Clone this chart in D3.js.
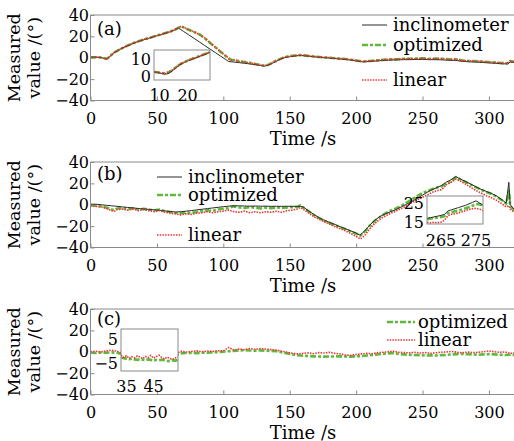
<!DOCTYPE html>
<html><head><meta charset="utf-8">
<script src="https://cdn.jsdelivr.net/npm/d3@7"></script>
<style>
body{margin:0;background:#fff}
svg{display:block}
text{font-family:'DejaVu Serif',serif;fill:#000}
</style>
</head><body>
<svg id="chart" width="514" height="441"></svg>
<script>
// ---------------- DATA ----------------
const xTicks = [0,50,100,150,200,250,300];
const yTicks = [-40,-20,0,20,40];
const panelLabels = ["(a)","(b)","(c)"];
const yLabelLines = ["Measured","value /(°)"];
const xLabel = "Time /s";

// Panel (a)
const aTime = [0,4,8,10,12,14,16,18,20,24,28,32,36,40,44,48,52,56,60,64,66,68,70,74,78,82,86,90,94,98,102,104,106,108,112,116,120,124,128,131,134,138,142,146,150,154,158,162,166,170,175,180,185,190,195,200,205,210,215,220,225,230,235,240,245,250,255,260,265,270,275,280,285,290,295,300,305,310,314,316,318,320];
const aIncl = [0.5,0.5,0.2,-0.5,-1.3,0.3,2.8,5,6.3,9, 11.3,13.3,15.3,16.8,18.3,19.8,21.3,22.8,24.3,26.3, 27.8,26.4,24.7,21.4,18.1,14.8,11.4,8.1,4.8,1.5, -1.8,-3.5,-3.8,-4,-4.6,-5.2,-5.8,-6.5,-7.2,-7.8, -6.8,-4.5,-2,0,1,1.7,2.2,1.8,1.2,0.7, 0.2,-0.3,-0.8,-1.4,-2,-3,-3.8,-3.5,-3,-2.6, -2.2,-2,-1.8,-1.8,-1.6,-1.5,-1.8,-1.8,-2,-2.3, -2.5,-3.3,-3.8,-4,-4.4,-4.8,-5.2,-5.6,-5.8,-4, -4.2,-4.5];
const aOpt = [0.5,0.5,0.3,-0.3,-1,0.5,3,5,6.5,9, 11.5,13.5,15.5,17,18.5,20,21.5,23,24.5,26.5, 28,29.5,28.4,26.2,24,21.9,18.3,14,9.8,5.6, 1.4,-0.7,-2,-2.3,-3.2,-4,-4.8,-5.8,-6.8,-7.5, -6.5,-4,-1.5,0.5,1.5,2,2.5,2,1.5,1, 0.5,0,-0.5,-1,-1.5,-2.5,-3.5,-3,-2.5,-2, -1.5,-1.5,-1,-1,-0.8,-0.5,-1,-0.8,-1,-1.5, -1.5,-2.5,-3,-3.2,-3.6,-4,-4.5,-5,-5.2,-3, -3.5,-4];
const aLin = [0.3,0.7,0.1,-0.5,-1.2,0.8,2.8,5.3,6.2,9.3, 11.2,13.8,15.2,17.3,18.2,20.3,21.2,23.3,24.2,26.8, 27.7,29.3,28.6,26,24.3,21.6,18.6,13.7,10.1,5.3, 1.7,-0.4,-2.2,-2,-3.4,-3.8,-5,-5.6,-7,-7.3, -6.8,-3.8,-1.7,0.7,1.3,2.2,2.3,2.2,1.3,1.2, 0.3,0.2,-0.7,-0.8,-1.7,-2.3,-3.7,-2.8,-2.7,-1.8, -1.7,-1.3,-1.2,-0.8,-1,-0.3,-1.2,-0.6,-0.8,-1.7, -1.3,-2.7,-2.8,-3.4,-3.4,-4.2,-4.3,-5.2,-5,-2.8, -3.7,-3.8];
const aInsTime = [8,9,10,11,12,13,14,15,16,17,18,19,20,21,22,23,24,25,26,27,28];
const aInsIncl = [2.5,2.3,2,1.6,1.3,1.6,2.5,3.8,5,6.3,7.3,8.1,8.8,9.4,10,10.6,11.2,11.8,12.4,13,13.6];
const aInsOpt = [2.6,2.4,2.2,1.9,1.8,2.2,3,4.2,5.4,6.6,7.5,8.3,9,9.6,10.2,10.8,11.4,12,12.6,13.2,13.9];
const aInsLin = [2.4,2.6,2,2,1.6,2.4,3.2,4,5.6,6.4,7.7,8.1,9.2,9.5,10.4,10.6,11.6,11.9,12.8,13.1,14.1];
const aInsXTicks = [10,20];
const aInsYTicks = [0,10];

// Panel (b)
const bTime = [0,4,8,12,16,18,20,24,28,32, 36,40,44,48,52,56,60,64,68,72, 76,80,84,88,92,96,100,104,108,112, 116,120,124,128,132,136,140,144,148,152, 156,158,160,164,168,172,176,180,184,188, 192,196,200,203,206,210,214,218,222,226, 230,234,238,242,246,250,254,258,262,264, 266,268,270,273,275,278,282,286,290,294, 298,302,306,310,313,315,316,318,320];
const bIncl = [0.5,0.5,0,-0.5,-1,-1.2,-1.5,-2,-2.5,-3, -3.5,-4,-4.3,-4.8,-5.2,-5.8,-6.3,-6.8,-6.5,-6, -5.4,-4.8,-4.2,-3.6,-3,-2.4,-1.8,-1.3,-1,-1, -1.2,-1.3,-1.2,-1.4,-1.3,-1.5,-1.4,-1.5,-1.4,-1.5, -1.5,-1.5,-2,-5.5,-9,-12,-14.5,-16.5,-18.5,-20.5, -22.5,-24.5,-26.5,-28.5,-25,-19.5,-14.5,-11,-8.5,-6.5, -4.5,-2,0.5,3,6,9,12,14.5,16.8,17.8, 19.5,21.2,22.5,24.5,26.3,24.3,22,19.5,17,14.5, 12.5,10.5,8,4.5,1.5,21,0,-3,-5];
const bOpt = [-0.5,-0.8,-1.5,-2.5,-4.5,-5,-3.5,-3,-4,-3.2, -4.5,-3.8,-4.6,-5.2,-4.5,-6,-6.8,-7.5,-8,-7.2, -7.8,-6.5,-6,-5.2,-5.8,-4.5,-3.8,-3,-1.5,-2.5, -3,-2.2,-2.8,-3.5,-2.6,-3.2,-2.5,-3,-2.6,-2.2, -2,-0.5,-2.5,-6,-9.5,-12.5,-15,-17,-19,-21, -23,-25,-27,-29,-26,-20,-15,-11.5,-8,-5.5, -3.5,-1,2,5,8,11,13,15,16.5,17, 18.5,19.5,20.8,23.5,26,24,21.5,19,16.5,14, 12,10,7.5,4,1,13,-1,-4,-6];
const bLin = [-1,-1.5,-2,-3.5,-5.5,-6,-4.5,-4,-5,-4, -5.5,-4.5,-5.5,-6.5,-5.5,-7,-8,-8.5,-9.5,-8.5, -9,-8,-7.5,-6.5,-7.5,-6.5,-6,-5,-6.5,-7, -6,-7.5,-6.5,-7.5,-6.5,-7,-6,-7,-5.5,-5, -4,-2.5,-4,-7.5,-11,-13.5,-16,-18,-20.5,-22.5, -24.5,-27,-29.5,-32,-29.5,-23,-17.5,-13.5,-10.5,-8, -6,-3.5,-1,2,4.5,7,9.5,12,13.5,14, 16,19,20,22,24,22.5,19.5,16.5,13.5,11, 8.5,6.5,4,0.5,-2,-1,-4,-6,-7];
const bInsTime = [261,262,263,264,265,266,267,268,269,270,271,272,273,274,275,276,277];
const bInsIncl = [17,17.4,17.8,18.2,18.6,19.2,21,21.6,22.2,22.8,23.4,24,24.8,25.6,26.4,25.3,24];
const bInsOpt = [16.6,16.9,17.2,17.5,17.8,18.2,19.8,20.3,20.8,21.3,21.8,22.4,23,23.8,24.6,24.6,23.8];
const bInsLin = [14.8,14.6,14.9,14.7,15,16,18.5,19.2,19.5,20,20.5,21.2,21.8,22.2,22.4,22,21.2];
const bInsXTicks = [265,275];
const bInsYTicks = [15,25];

// Panel (c)
const cTime = [0,4,8,12,16,20,24,28,32,36, 40,44,48,52,56,60,64,68,72,76, 80,84,88,92,96,100,104,108,112,116, 120,124,128,132,136,140,144,148,152,156, 160,164,168,172,176,180,184,188,192,196, 200,204,208,212,216,220,224,228,232,236, 240,244,248,252,256,260,264,268,272,276, 280,284,288,292,296,300,304,308,312,316, 320];
const cOpt = [-1,-1.2,-0.8,-1,-0.6,-1,-2.5,-3,-3,-3.2, -3.5,-3.3,-3.6,-3.8,-3.5,-3.8,-3.5,-1.5,-1.2,-1, -1.3,-0.8,-1,-0.5,-0.3,0,0.5,0.8,1.2,1.5, 1.2,1,1.3,1,0.8,0.5,-0.5,-1.5,-2.5,-3.2, -3.8,-4,-4.3,-4.5,-4.6,-4.5,-4.4,-4.2,-4.5,-4.6, -4.3,-4,-3.5,-3,-2.5,-2,-1.5,-1.2,-2,-2.5, -2.8,-3,-3.2,-3.5,-3.3,-3.5,-3.2,-3,-2.5,-2.2, -2,-2.3,-2.5,-2.8,-2.5,-2.2,-2.5,-2.8,-3,-2.8, -3];
const cLin = [0,0.5,-0.2,0.8,1.5,0.5,-1.5,-2,-2.5,-2, -2.5,-2,-2.8,-2.2,-3,-2.6,-2.2,0.5,-0.3,0.2, 0.8,0,0.6,0.3,1,0.8,4,1.5,2.5,2, 3,2.2,3,2.5,2,1.5,0.5,-0.5,-1.5,-2, -1.5,-1,-1.8,-0.8,-1.2,-0.5,-1.5,-2,-3,-3.5, -2.5,-2,-1.5,-1.8,-1,-0.5,0,0.5,-0.5,-0.8, -1,-0.5,-1.2,-0.8,-1.5,-1,-0.5,-0.2,0.3,-0.5, -1,-0.3,-0.8,-0.5,0,0.8,0,-0.5,-0.2,-1.5, -1.2];
const cInsTime = [33,34,35,36,37,38,39,40,41,42,43,44,45,46,47,48,49,50,51,52,53,54];
const cInsOpt = [-2.5,-2.8,-3,-3.2,-3,-3.3,-3.5,-3.2,-3.4,-3.6,-3.3,-3.5,-3.8,-3.5,-3.7,-3.4,-3.6,-3.9,-4,-3.7,-3.8,-3.5];
const cInsLin = [-1.5,-2.5,-1.8,-2.9,-2.2,-2.7,-1.9,-2.4,-3,-2.1,-2.6,-1.7,-2.8,-2.2,-1.6,-2.5,-3.1,-2.4,-2.9,-3.3,-2.7,-2.2];
const cInsXTicks = [35,45];
const cInsYTicks = [-5,5];

// ---------------- STYLE / LAYOUT ----------------
const STY = {
  inclinometer: {stroke:"#2b2b2b", w:1, dash:null},
  optimized: {stroke:"#5fba3c", w:2.6, dash:"6,2,3,2"},
  linear: {stroke:"#f03232", w:1.6, dash:"1.5,1.2"}
};
const AXC = "#8a8a8a";
const svg = d3.select("#chart");
const x = d3.scaleLinear().domain([0,320]).range([90.5,515.5]);
const fmt = d3.format("");

function zipSeries(t, v){
  if (t.length !== v.length) throw new Error("length mismatch " + t.length + " vs " + v.length);
  return t.map((d,i)=>[d, v[i]]);
}

function drawLine(g, data, xs, ys, name){
  const s = STY[name];
  g.append("path").datum(data)
    .attr("fill","none").attr("stroke",s.stroke).attr("stroke-width",s.w)
    .attr("stroke-dasharray",s.dash).attr("stroke-linejoin","round")
    .attr("d", d3.line().x(d=>xs(d[0])).y(d=>ys(d[1])));
}

const panels = [
  {T:15, B:100.5, label:panelLabels[0], labelY:35,
   series:[["optimized",aTime,aOpt],["inclinometer",aTime,aIncl],["linear",aTime,aLin]],
   legend:{x0:362,x1:387,tx:393, rows:[[25,"inclinometer"],[45,"optimized"],[80,"linear"]]},
   inset:{x0:154,x1:210,y0:50,y1:80, xd:[8,28], yd:[-2,15], xt:aInsXTicks, yt:aInsYTicks, lab:21,
     series:[["optimized",aInsTime,aInsOpt],["inclinometer",aInsTime,aInsIncl],["linear",aInsTime,aInsLin]]}},
  {T:162, B:247.5, label:panelLabels[1], labelY:180,
   series:[["optimized",bTime,bOpt],["inclinometer",bTime,bIncl],["linear",bTime,bLin]],
   legend:{x0:157,x1:182,tx:188, rows:[[177,"inclinometer"],[195,"optimized"],[235,"linear"]]},
   inset:{x0:427,x1:483,y0:196,y1:224, xd:[261,277], yd:[14,29], xt:bInsXTicks, yt:bInsYTicks, lab:22,
     series:[["optimized",bInsTime,bInsOpt],["inclinometer",bInsTime,bInsIncl],["linear",bInsTime,bInsLin]]}},
  {T:309, B:394.5, label:panelLabels[2], labelY:325,
   series:[["optimized",cTime,cOpt],["linear",cTime,cLin]],
   legend:{x0:387,x1:415,tx:418, rows:[[322,"optimized"],[340,"linear"]]},
   inset:{x0:121,x1:178,y0:329,y1:371, xd:[33,54], yd:[-8,9], xt:cInsXTicks, yt:cInsYTicks, lab:21,
     series:[["optimized",cInsTime,cInsOpt],["linear",cInsTime,cInsLin]]}}
];

panels.forEach((p, pi) => {
  const y = d3.scaleLinear().domain([-40,40]).range([p.B, p.T]);
  const g = svg.append("g");
  const clipId = "clip"+pi;
  svg.append("clipPath").attr("id",clipId).append("rect")
    .attr("x",90.5).attr("y",p.T).attr("width",514-90.5).attr("height",p.B-p.T);

  const lg = g.append("g").attr("clip-path","url(#"+clipId+")");
  p.series.forEach(([name,t,v]) => drawLine(lg, zipSeries(t,v), x, y, name));

  const xa = g.append("g").attr("transform","translate(0,"+p.B+")")
    .call(d3.axisBottom(x).tickValues(xTicks).tickSize(-4).tickPadding(12.6).tickFormat(fmt));
  xa.select(".domain").remove();
  xa.attr("font-size",16).attr("font-family",null).attr("color",AXC);
  const ya = g.append("g").attr("transform","translate(90.5,0)")
    .call(d3.axisLeft(y).tickValues(yTicks).tickSize(-4).tickPadding(1.5));
  ya.select(".domain").remove();
  ya.attr("font-size",16).attr("font-family",null).attr("color",AXC);

  g.append("path").attr("fill","none").attr("stroke",AXC).attr("stroke-width",1)
    .attr("d","M514,"+p.T+"H90.5V"+p.B+"H514");

  g.append("text").attr("x",97).attr("y",p.labelY).attr("font-size",18).text(p.label);

  const yc = (p.T+p.B)/2;
  [14,34].forEach((lx,i)=>{
    g.append("text").attr("transform","translate("+lx+","+yc+") rotate(-90)")
      .attr("text-anchor","middle").attr("dominant-baseline","central")
      .attr("font-size",17.5).text(yLabelLines[i]);
  });
  g.append("text").attr("x",303).attr("y",p.B+44).attr("text-anchor","middle")
    .attr("font-size",18).text(xLabel);

  p.legend.rows.forEach(([ly,name])=>{
    const s = STY[name];
    g.append("line").attr("x1",p.legend.x0).attr("x2",p.legend.x1).attr("y1",ly).attr("y2",ly)
      .attr("stroke",s.stroke).attr("stroke-width",s.w).attr("stroke-dasharray",s.dash);
    g.append("text").attr("x",p.legend.tx).attr("y",ly+6).attr("font-size",18).text(name);
  });

  const ins = p.inset;
  const ix = d3.scaleLinear().domain(ins.xd).range([ins.x0, ins.x1]);
  const iy = d3.scaleLinear().domain(ins.yd).range([ins.y1, ins.y0]);
  const ig = g.append("g");
  ig.append("rect").attr("x",ins.x0).attr("y",ins.y0).attr("width",ins.x1-ins.x0)
    .attr("height",ins.y1-ins.y0).attr("fill","#fff");
  const iclip = "iclip"+pi;
  svg.append("clipPath").attr("id",iclip).append("rect").attr("x",ins.x0).attr("y",ins.y0)
    .attr("width",ins.x1-ins.x0).attr("height",ins.y1-ins.y0);
  const ilg = ig.append("g").attr("clip-path","url(#"+iclip+")");
  ins.series.forEach(([name,t,v]) => drawLine(ilg, zipSeries(t,v), ix, iy, name));
  ig.append("rect").attr("x",ins.x0).attr("y",ins.y0).attr("width",ins.x1-ins.x0)
    .attr("height",ins.y1-ins.y0).attr("fill","none").attr("stroke",AXC).attr("stroke-width",1);
  ins.xt.forEach(v=>{
    ig.append("text").attr("x",ix(v)).attr("y",ins.y1+ins.lab).attr("text-anchor","middle")
      .attr("font-size",16).text(fmt(v));
  });
  ins.yt.forEach(v=>{
    ig.append("text").attr("x",ins.x0-3).attr("y",iy(v)).attr("dy","0.36em").attr("text-anchor","end")
      .attr("font-size",16).text(fmt(v));
  });
});
</script>
</body></html>
